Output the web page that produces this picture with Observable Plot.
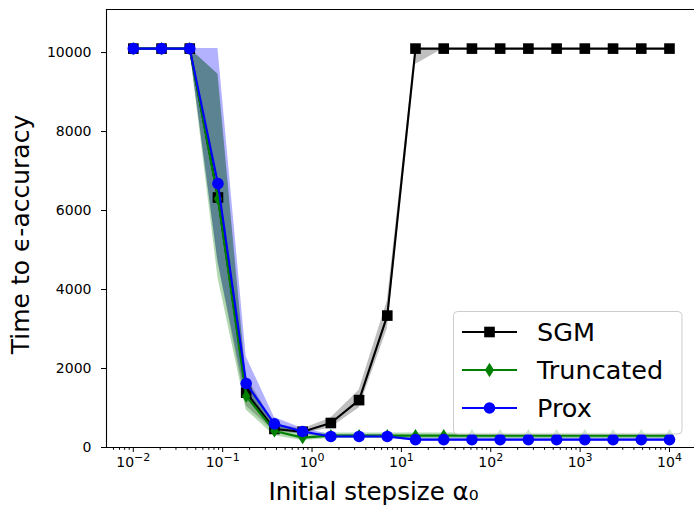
<!DOCTYPE html>
<html>
<head>
<meta charset="utf-8">
<script src="https://cdn.jsdelivr.net/npm/d3@7"></script>
<script src="https://cdn.jsdelivr.net/npm/@observablehq/plot@0.6"></script>
<style>
  html, body { margin: 0; padding: 0; background: #fff; }
  #wrap { position: relative; width: 694px; height: 508px; overflow: hidden; }
  #legend { position: absolute; left: 453px; top: 311px; }
</style>
</head>
<body>
<div id="wrap"></div>
<script>
// ---- data ----
const stepsizes = [0.01, 0.02069, 0.04281, 0.08859, 0.1833, 0.3793, 0.7848, 1.624, 3.360, 6.952,
                   14.38, 29.76, 61.58, 127.4, 263.7, 545.6, 1129, 2336, 4833, 10000];

const sgmMean = [10100, 10100, 10100, 6330, 1390, 470, 400, 620, 1200, 3340,
                 10100, 10100, 10100, 10100, 10100, 10100, 10100, 10100, 10100, 10100];
const sgmLow  = [10100, 10100, 10100, 4700, 1050, 400, 340, 500, 1000, 3000,
                 9700, 10100, 10100, 10100, 10100, 10100, 10100, 10100, 10100, 10100];
const sgmHigh = [10100, 10100, 10100, 9450, 1800, 600, 470, 750, 1450, 3700,
                 10100, 10100, 10100, 10100, 10100, 10100, 10100, 10100, 10100, 10100];

const truncMean = [10100, 10100, 10100, 6300, 1300, 420, 250, 300, 300, 300,
                   300, 300, 300, 300, 300, 300, 300, 300, 300, 300];
const truncLow  = [10100, 10100, 10100, 4300, 950, 300, 180, 230, 230, 230,
                   230, 230, 230, 230, 230, 230, 230, 230, 230, 230];
const truncHigh = [10100, 10100, 10100, 9450, 1700, 620, 350, 370, 370, 370,
                   370, 370, 370, 370, 370, 370, 370, 370, 370, 370];

const proxMean = [10100, 10100, 10100, 6680, 1620, 600, 405, 280, 280, 280,
                  200, 200, 200, 200, 200, 200, 200, 200, 200, 200];
const proxLow  = [10100, 10100, 10100, 4700, 1250, 470, 330, 240, 240, 240,
                  160, 160, 160, 160, 160, 160, 160, 160, 160, 160];
const proxHigh = [10100, 10100, 10100, 10100, 2300, 760, 480, 330, 330, 330,
                  240, 240, 240, 240, 240, 240, 240, 240, 240, 240];

const methodNames = ["SGM", "Truncated", "Prox"];
const methodColors = ["black", "green", "blue"];

const xTickValues = [0.01, 0.1, 1, 10, 100, 1000, 10000];
const xTickExponents = ["\u22122", "\u22121", "0", "1", "2", "3", "4"];
const yTickValues = [0, 2000, 4000, 6000, 8000, 10000];
const xLabel = "Initial stepsize \u03b1\u2080";
const yLabel = "Time to \u03f5-accuracy";

// ---- tables ----
const table = (mean, lo, hi) => stepsizes.map((x, i) => ({x, y: mean[i], lo: lo[i], hi: hi[i]}));
const sgm = table(sgmMean, sgmLow, sgmHigh);
const trunc = table(truncMean, truncLow, truncHigh);
const prox = table(proxMean, proxLow, proxHigh);

// minor log ticks
const minorTicks = [];
for (let k = -3; k <= 4; k++) for (let m = 2; m <= 9; m++) {
  const v = m * Math.pow(10, k);
  if (v > Math.pow(10, -2.3) && v < Math.pow(10, 4.28)) minorTicks.push(v);
}

// thin diamond symbol (matplotlib "d")
const thinDiamond = {
  draw(context, size) {
    const r = Math.sqrt(size / Math.PI);
    const h = r * 1.1, w = r * 0.7;
    context.moveTo(0, -h);
    context.lineTo(w, 0);
    context.lineTo(0, h);
    context.lineTo(-w, 0);
    context.closePath();
  }
};

const xDomain = [Math.pow(10, -2.3), Math.pow(10, 4.28)];
const yMax = 11090;

const chart = Plot.plot({
  width: 694,
  height: 508,
  marginLeft: 106,
  marginRight: 0,
  marginTop: 9,
  marginBottom: 61,
  style: {fontFamily: "DejaVu Sans", fontSize: "14px", background: "white", color: "black"},
  x: {type: "log", domain: xDomain, axis: null, label: null},
  y: {domain: [0, yMax], axis: null, label: null},
  marks: [
    // bands
    Plot.areaY(sgm, {x: "x", y1: "lo", y2: "hi", fill: "black", fillOpacity: 0.25}),
    Plot.areaY(prox, {x: "x", y1: "lo", y2: "hi", fill: "blue", fillOpacity: 0.3}),
    Plot.areaY(trunc, {x: "x", y1: "lo", y2: "hi", fill: "green", fillOpacity: 0.3}),
    // lines + markers
    Plot.line(sgm, {x: "x", y: "y", stroke: "black", strokeWidth: 2.1}),
    Plot.dot(sgm, {x: "x", y: "y", symbol: "square", r: 6.0, fill: "black", stroke: null}),
    Plot.line(trunc, {x: "x", y: "y", stroke: "green", strokeWidth: 2.1}),
    Plot.dot(trunc, {x: "x", y: "y", symbol: thinDiamond, r: 6.0, fill: "green", stroke: null}),
    Plot.line(prox, {x: "x", y: "y", stroke: "blue", strokeWidth: 2.1}),
    Plot.dot(prox, {x: "x", y: "y", symbol: "circle", r: 5.8, fill: "blue", stroke: null}),
    // frame (left, top, bottom)
    Plot.ruleX([xDomain[0]], {stroke: "black", strokeWidth: 1.1}),
    Plot.ruleY([0], {stroke: "black", strokeWidth: 1.1}),
    Plot.ruleY([yMax], {stroke: "black", strokeWidth: 1.1}),
    // axes
    Plot.axisX({ticks: minorTicks, tickSize: 2.8, tickFormat: () => "", label: null}),
    Plot.axisX({ticks: xTickValues, tickSize: 5, tickPadding: 5, fontSize: 14, label: null,
                tickFormat: (d) => "10^" + xTickExponents[xTickValues.indexOf(d)]}),
    Plot.axisY({ticks: yTickValues, tickSize: 5, tickPadding: 10, fontSize: 14, label: null,
                tickFormat: (d) => String(d)}),
    // axis titles
    Plot.text([yLabel], {text: (d) => d, frameAnchor: "left", dx: -86, dy: 6, rotate: -90,
                         textAnchor: "middle", lineAnchor: "middle", fontSize: 25, fill: "black"}),
    Plot.text([xLabel], {text: (d) => d, frameAnchor: "bottom", dx: -27, dy: 44,
                         textAnchor: "middle", fontSize: 25, fill: "black", lineAnchor: "middle"})
  ]
});

// superscript exponents on x tick labels
d3.select(chart).selectAll("text").each(function () {
  const t = this.textContent;
  if (t.startsWith("10^")) {
    const exp = t.slice(3);
    const sel = d3.select(this);
    sel.text(null);
    sel.append("tspan").text("10");
    sel.append("tspan").attr("dy", "-0.55em").attr("font-size", "11px").text(exp);
  } else if (t === xLabel) {
    d3.select(this).attr("textLength", 210).attr("lengthAdjust", "spacingAndGlyphs");
  }
});

const wrap = document.getElementById("wrap");
wrap.appendChild(chart);

// ---- legend ----
const lw = 230, lh = 124;
const leg = d3.select(wrap).append("svg").attr("id", "legend")
  .attr("width", lw).attr("height", lh);
leg.append("rect").attr("x", 0.5).attr("y", 0.5).attr("width", lw - 1.5).attr("height", lh - 1.5)
  .attr("rx", 4).attr("fill", "white").attr("fill-opacity", 0.8).attr("stroke", "#cccccc");
const rowY = [21, 59, 97];
methodNames.forEach((name, i) => {
  const g = leg.append("g").attr("transform", `translate(0,${rowY[i]})`);
  g.append("line").attr("x1", 9).attr("x2", 64).attr("stroke", methodColors[i]).attr("stroke-width", 2.1);
  let sym;
  if (i === 0) sym = d3.symbol(d3.symbolSquare, Math.PI * 36);
  else if (i === 1) sym = d3.symbol(thinDiamond, Math.PI * 42);
  else sym = d3.symbol(d3.symbolCircle, Math.PI * 5.8 * 5.8);
  g.append("path").attr("d", sym()).attr("transform", "translate(36.5,0)").attr("fill", methodColors[i]);
  g.append("text").attr("x", 84).attr("y", 9).attr("font-family", "DejaVu Sans")
    .attr("font-size", 25.5).attr("fill", "black").text(name);
});
</script>
</body>
</html>
